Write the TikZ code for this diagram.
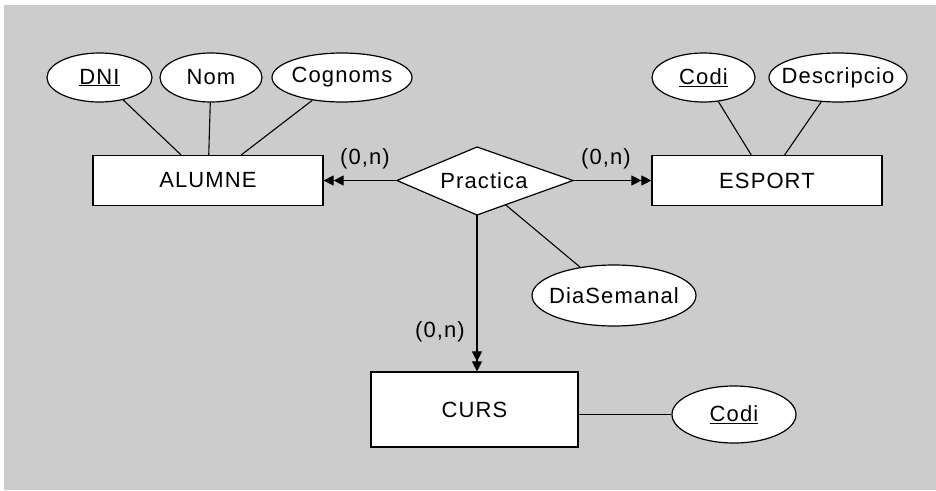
\documentclass[tikz,border=0pt]{standalone}
\usepackage{fontspec}
\setmainfont{Liberation Sans}[LetterSpace=5]
\usetikzlibrary{shapes.geometric,arrows.meta}
\definecolor{canvas}{HTML}{CCCCCC}
\begin{document}
\begin{tikzpicture}[x=1pt,y=-1pt,
  every node/.style={font=\fontsize{22}{26}\selectfont},
  ent/.style={draw, fill=white, line width=1.2pt, rectangle, inner sep=0pt},
  attr/.style={draw, fill=white, line width=1.2pt, ellipse, inner sep=0pt},
  link/.style={line width=1.1pt},
  card/.style={-{Triangle[length=10pt,width=10pt]Triangle[length=10pt,width=10pt]}, line width=1.1pt}
]
\useasboundingbox (0,0) rectangle (936,490);
\fill[white] (0,0) rectangle (936,490);
\fill[canvas] (4,5) rectangle (936,490);

% entities
\node[ent, minimum width=230pt, minimum height=50pt] (alumne) at (208,180.5) {ALUMNE};
\node[ent, minimum width=230pt, minimum height=50pt] (esport) at (767,180.5) {ESPORT};
\node[ent, minimum width=207pt, minimum height=75pt] (curs) at (474.5,409.5) {CURS};

% attributes of ALUMNE
\node[attr, minimum width=105pt, minimum height=49pt, label=center:\underline{DNI}] (dni) at (99.5,77.5) {};
\node[attr, minimum width=102pt, minimum height=49pt, label=center:Nom] (nom) at (211,77.5) {};
\node[attr, minimum width=140pt, minimum height=49pt, label=center:Cognoms] (cognoms) at (342,77.5) {};

% attributes of ESPORT
\node[attr, minimum width=103pt, minimum height=49pt, label=center:\underline{Codi}] (codiE) at (703.5,77.5) {};
\node[attr, minimum width=138pt, minimum height=49pt, label=center:Descripcio] (descr) at (838,77.5) {};

% attribute of CURS
\node[attr, minimum width=124pt, minimum height=57pt, label=center:\underline{Codi}] (codiC) at (734,414.5) {};

% relationship Practica
\coordinate (pl) at (397,180.5);
\coordinate (pt) at (477,147);
\coordinate (pr) at (573,180.5);
\coordinate (pb) at (477,215);
\coordinate (pe) at (505.7,204.9);
\filldraw[fill=white, line width=1.2pt, line join=miter] (pl) -- (pt) -- (pr) -- (pb) -- cycle;
\node (practica) at (484,180.5) {Practica};

% attribute of Practica
\node[attr, minimum width=164pt, minimum height=61pt, label=center:DiaSemanal] (dia) at (614,295.5) {};

% attribute links
\draw[link] (dni) -- (alumne);
\draw[link] (nom) -- (alumne);
\draw[link] (cognoms) -- (alumne);
\draw[link] (codiE) -- (esport);
\draw[link] (descr) -- (esport);
\draw[link] (curs.east |- codiC.west) -- (codiC.west);
\draw[link] (pe) -- (dia);

% relationship links with cardinalities
\draw[card] (pl) -- (alumne.east);
\draw[card] (pr) -- (esport.west);
\draw[card] (pb) -- (pb |- curs.north);
\node (cardA) at (365,159) {(0,n)};
\node (cardE) at (606,159) {(0,n)};
\node (cardC) at (440,332) {(0,n)};
\end{tikzpicture}
\end{document}
